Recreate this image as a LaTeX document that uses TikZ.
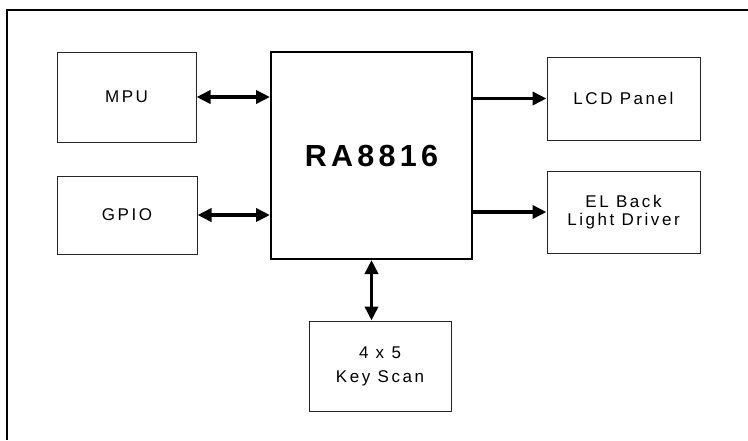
\documentclass[tikz,border=0pt]{standalone}
\usepackage{fontspec}
\usepackage{tikz}
\usetikzlibrary{arrows.meta, positioning, calc}
\newfontfamily\blockfont[LetterSpace=15]{Liberation Sans}
\newfontfamily\chipfont[LetterSpace=14]{Liberation Sans}

\begin{document}
\begin{tikzpicture}[x=1pt, y=-1pt, line width=1pt,
				Block/.style={
				draw=black!85,
				inner sep=0pt,
				align=center,
				font=\blockfont\fontsize{17}{18}\selectfont
				},
				Chip/.style={
				draw,
				line width=2pt,
				inner sep=0pt,
				minimum width=201pt,
				minimum height=207pt,
				font=\chipfont\bfseries\fontsize{30.5}{32}\selectfont
				},
				Bus/.style={
				line width=3.5pt,
				{Triangle[length=14pt,width=13pt]}-{Triangle[length=14pt,width=13pt]}
				},
				Out/.style={
				line width=3.5pt,
				-{Triangle[length=14pt,width=13pt]}
				}]
				\useasboundingbox (0,0) rectangle (748,440);
				\draw[line width=1.5pt] (748,10) -| (7,440); % outer frame
				\node[Chip] (RA) at (371.5,155.5) {RA8816};
				\node[Block, minimum width=139pt, minimum height=90pt] (MPU) at (126.5,97) {MPU};
				\node[Block, minimum width=140pt, minimum height=78pt] (GPIO) at (127,215) {GPIO};
				\node[Block, minimum width=153pt, minimum height=83pt] (LCD) at (623.5,98.5) {LCD Panel};
				\node[Block, minimum width=153pt, minimum height=82pt] (EL) at (623.5,212) {EL Back\\Light Driver};
				\node[Block, minimum width=142pt, minimum height=90pt,
					font=\blockfont\fontsize{17}{24}\selectfont] (Key) at (380,366) {4 x 5\\Key Scan};
				\draw[Bus] (MPU.east) -- (MPU.east -| RA.west);
				\draw[Bus] (GPIO.east) -- (GPIO.east -| RA.west);
				\draw[Out] (RA.east |- LCD.west) -- (LCD.west);
				\draw[Out] (RA.east |- EL.west) -- (EL.west);
				\draw[Bus] (RA.south) -- (RA.south |- Key.north);
			\end{tikzpicture}
\end{document}
